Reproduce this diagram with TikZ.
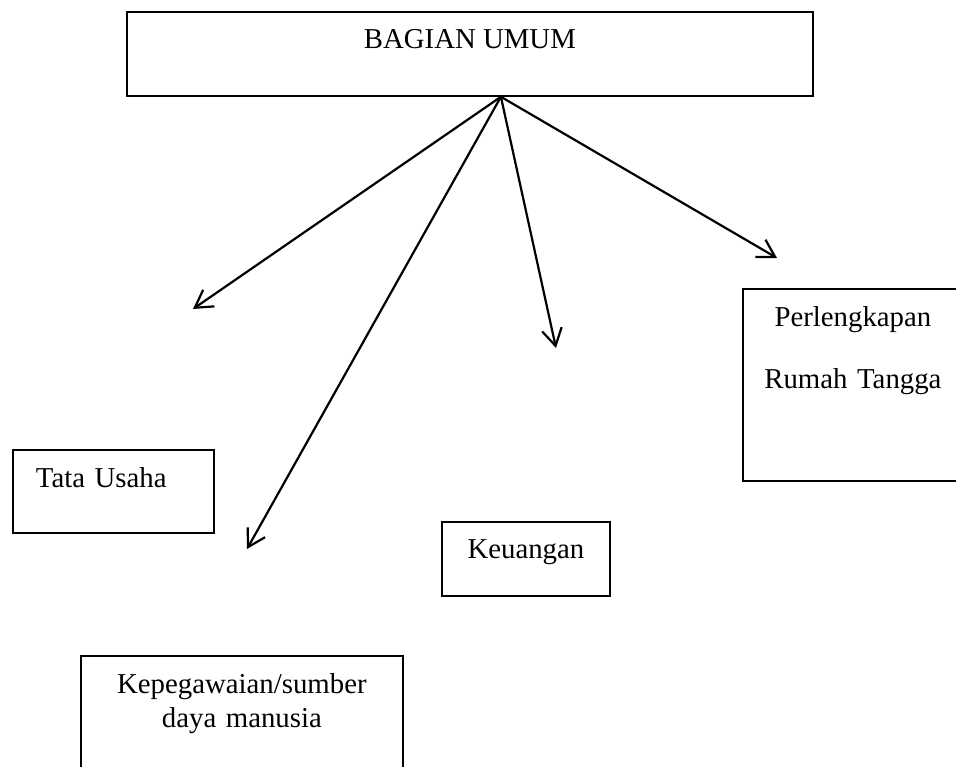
\documentclass[tikz,border=0pt]{standalone}
\usepackage{fontspec}
\setmainfont{Liberation Serif}
\usetikzlibrary{arrows.meta}

\begin{document}
\begin{tikzpicture}[x=1pt, y=-1pt,
    unit/.style={draw, line width=1.8pt, anchor=north west, inner sep=0pt,
      font=\fontsize{28.8}{34}\selectfont},
    arr/.style={line width=2.2pt, -{Straight Barb[length=17pt,width=20pt]}}]
  \clip (0,0) rectangle (956,767);
  \node[unit, minimum width=686pt, text height=37pt, text depth=47pt] (umum) at (126,11) {BAGIAN UMUM};
  \node[unit, text width=155pt, inner xsep=23pt, align=left, text height=38pt, text depth=45pt] (tata) at (12,449) {Tata Usaha};
  \node[unit, minimum width=168pt, text height=37pt, text depth=37pt] (keu) at (441,521) {Keuangan};
  \node[unit, text width=322pt, align=center, text height=38pt, text depth=92pt] (kep) at (80,655) {Kepegawaian/sumber\\daya manusia};
  \node[unit, text width=220pt, align=center, text height=38pt, text depth=154pt] (perl) at (742,288) {Perlengkapan\\[28pt]Rumah Tangga};
  \coordinate (tTata) at (193,309);
  \coordinate (tKep) at (247,549);
  \coordinate (tKeu) at (556,348);
  \coordinate (tPerl) at (777,258);
  \draw[arr] ([xshift=31pt]umum.south) -- (tTata);
  \draw[arr] ([xshift=31pt]umum.south) -- (tKep);
  \draw[arr] ([xshift=31pt]umum.south) -- (tKeu);
  \draw[arr] ([xshift=31pt]umum.south) -- (tPerl);
\end{tikzpicture}
\end{document}
